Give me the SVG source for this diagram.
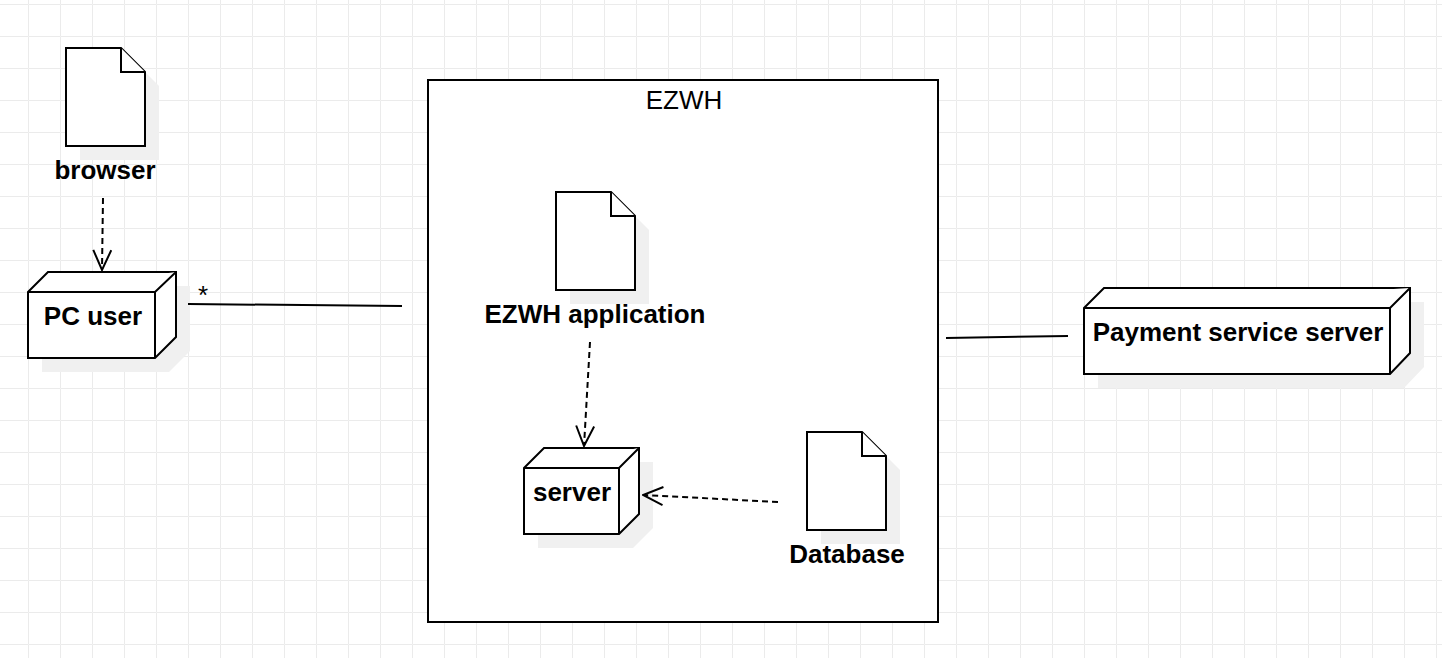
<svg xmlns="http://www.w3.org/2000/svg" width="1442" height="658" viewBox="0 0 1442 658">
<defs>
<pattern id="grid" x="28" y="4" width="32" height="32" patternUnits="userSpaceOnUse">
<path d="M 32 0.5 L 0.5 0.5 L 0.5 32" fill="none" stroke="#ebebeb" stroke-width="1"/>
</pattern>
<marker id="open" viewBox="0 0 22 20" refX="21" refY="10" markerWidth="22" markerHeight="20" markerUnits="userSpaceOnUse" orient="auto">
<path d="M 1 1 L 21 10 L 1 19" fill="none" stroke="#000" stroke-width="2"/>
</marker>
<style>
.shape{fill:#fff;stroke:#000;stroke-width:2;stroke-linejoin:miter}
.shadow{fill:#f0f0f0;stroke:none}
.lbl{font-family:"Liberation Sans",Arial,sans-serif;font-size:26px;font-weight:bold;fill:#000;text-anchor:middle}
.reg{font-family:"Liberation Sans",Arial,sans-serif;font-size:26px;fill:#000;text-anchor:middle}
.line{fill:none;stroke:#000;stroke-width:2}
.dash{fill:none;stroke:#000;stroke-width:2;stroke-dasharray:6 4}
</style>
</defs>
<rect x="0" y="0" width="1442" height="658" fill="#fff"/>
<rect x="0" y="0" width="1442" height="658" fill="url(#grid)"/>

<g id="ezwh-frame">
<rect x="428" y="80" width="510" height="542" class="shape"/>
<text x="684" y="109" class="reg">EZWH</text>
</g>

<g id="browser">
<path class="shadow" d="M 80 62 L 135 62 L 159 86 L 159 160 L 80 160 Z"/>
<path class="shape" d="M 66 48 L 121 48 L 145 72 L 145 146 L 66 146 Z"/>
<path class="shape" d="M 121 48 L 121 72 L 145 72" fill="none"/>
<text x="105" y="179" class="lbl">browser</text>
</g>

<g id="pc-user">
<path class="shadow" d="M 42 306 L 62 286 L 190 286 L 190 351 L 169 372 L 42 372 Z"/>
<path class="shape" d="M 28 292 L 48 272 L 176 272 L 176 337 L 155 358 L 28 358 Z"/>
<path class="shape" d="M 28 292 L 155 292 L 176 272 M 155 292 L 155 358" fill="none"/>
<text x="93" y="325" class="lbl">PC user</text>
</g>

<g id="ezwh-application">
<path class="shadow" d="M 570 206 L 625 206 L 649 230 L 649 304 L 570 304 Z"/>
<path class="shape" d="M 556 192 L 611 192 L 635 216 L 635 290 L 556 290 Z"/>
<path class="shape" d="M 611 192 L 611 216 L 635 216" fill="none"/>
<text x="595" y="323" class="lbl">EZWH application</text>
</g>

<g id="server">
<path class="shadow" d="M 538 482 L 558 462 L 653 462 L 653 528 L 633 548 L 538 548 Z"/>
<path class="shape" d="M 524 468 L 544 448 L 639 448 L 639 514 L 619 534 L 524 534 Z"/>
<path class="shape" d="M 524 468 L 619 468 L 639 448 M 619 468 L 619 534" fill="none"/>
<text x="572" y="501" class="lbl">server</text>
</g>

<g id="database">
<path class="shadow" d="M 821 446 L 876 446 L 900 470 L 900 544 L 821 544 Z"/>
<path class="shape" d="M 807 432 L 862 432 L 886 456 L 886 530 L 807 530 Z"/>
<path class="shape" d="M 862 432 L 862 456 L 886 456" fill="none"/>
<text x="847" y="563" class="lbl">Database</text>
</g>

<g id="payment-service-server">
<path class="shadow" d="M 1098 322 L 1118 302 L 1424 302 L 1424 367 L 1404 388 L 1098 388 Z"/>
<path class="shape" d="M 1084 308 L 1104 288 L 1410 288 L 1410 353 L 1390 374 L 1084 374 Z"/>
<path class="shape" d="M 1084 308 L 1390 308 L 1410 288 M 1390 308 L 1390 374" fill="none"/>
<text x="1238" y="341" class="lbl">Payment service server</text>
</g>

<g id="connectors">
<path class="dash" d="M 103 198 L 102 270" marker-end="url(#open)"/>
<path class="dash" d="M 590 342 L 584 446" marker-end="url(#open)"/>
<path class="dash" d="M 778 502 L 643 495" marker-end="url(#open)"/>
<path class="line" d="M 188 304 L 402 306"/>
<text x="203" y="304" class="reg">*</text>
<path class="line" d="M 946 338 L 1068 336"/>
</g>
</svg>
